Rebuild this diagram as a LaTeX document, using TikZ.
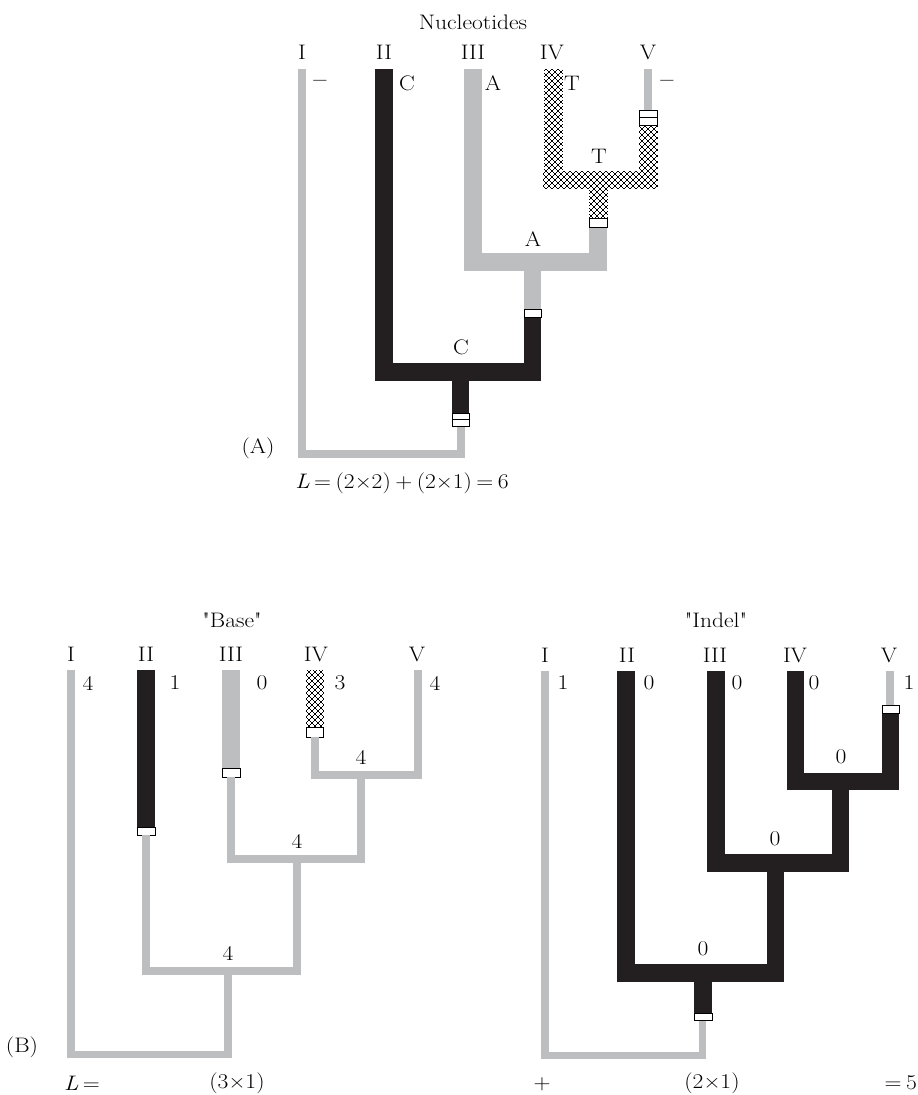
\documentclass[tikz,border=0pt]{standalone}
\usepackage{fontspec}
\setmainfont{Latin Modern Roman}[Ligatures=TeXOff, FakeStretch=1.12]
\usetikzlibrary{patterns.meta}
\definecolor{brgray}{RGB}{189,190,192}
\definecolor{brblack}{RGB}{35,31,32}
\tikzdeclarepattern{
  name=xhatch,
  type=uncolored,
  bounding box={(-0.6pt,-0.6pt) and (6.6pt,6.6pt)},
  tile size={(6pt,6pt)},
  line width=0.9pt,
  code={
    \draw (-0.6pt,-0.6pt) -- (6.6pt,6.6pt);
    \draw (-0.6pt,6.6pt) -- (6.6pt,-0.6pt);
  }
}
\newcommand\lblfont{\fontsize{21}{24}\selectfont}
\newcommand\eqfont{\fontsize{21}{24}\selectfont\spaceskip=4.5pt plus 0pt minus 0pt\relax}
\newcommand\dsh{\textbf{–}}
\tikzset{
  gr/.style={fill=brgray},
  bk/.style={fill=brblack},
  xh/.style={pattern={xhatch}, pattern color=black},
  wbox/.style={draw=black, fill=white, line width=0.8pt},
  lbl/.style={font=\lblfont, inner sep=0pt, anchor=center},
  eqn/.style={font=\eqfont, inner sep=0pt, anchor=center},
}
\begin{document}
\begin{tikzpicture}[x=1pt,y=-1pt]
\useasboundingbox (0,0) rectangle (918,1095);
\fill[white] (0,0) rectangle (918,1095);

% ================= Panel A =================
% I
\fill[gr] (298,69) rectangle (306,458);
\fill[gr] (298,450) rectangle (464.5,458);
\fill[gr] (456.5,426) rectangle (464.5,458);
% root stem black + double box
\fill[bk] (452,381) rectangle (469,413);
\draw[wbox] (452,413) rectangle (469,426);
\draw[line width=0.8pt] (452,419.5) -- (469,419.5);
% C bar and II
\fill[bk] (375,363) rectangle (541,381);
\fill[bk] (375,69) rectangle (393,381);
\fill[bk] (524,317) rectangle (541,381);
\draw[wbox] (524,309) rectangle (541,317);
\fill[gr] (524,271) rectangle (541,309);
% A bar and III
\fill[gr] (464,253) rectangle (607,271);
\fill[gr] (464,69) rectangle (482,271);
\fill[gr] (589,227) rectangle (607,253);
\draw[wbox] (589,218) rectangle (607,227);
\fill[xh] (589,187) rectangle (607,218);
% T bar, IV, V
\fill[xh] (543,171) rectangle (657,188);
\fill[xh] (544,69) rectangle (562,171);
\fill[xh] (639,125) rectangle (657,171);
\draw[wbox] (639,110) rectangle (657,125);
\draw[line width=0.8pt] (639,117.5) -- (657,117.5);
\fill[gr] (644,69) rectangle (652,110);

\node[lbl] (titleA) at (473,22) {Nucleotides};
\node[lbl] (aI) at (302,52) {I};
\node[lbl] (aII) at (384,52) {II};
\node[lbl] (aIII) at (473,52) {III};
\node[lbl] (aIV) at (552,52) {IV};
\node[lbl] (aV) at (648,52) {V};
\node[lbl] (sI) at (320,83) {\dsh};
\node[lbl] (sII) at (407,83) {C};
\node[lbl] (sIII) at (493,83) {A};
\node[lbl] (sIV) at (572,83) {T};
\node[lbl] (sV) at (667,83) {\dsh};
\node[lbl] (nT) at (599,156) {T};
\node[lbl] (nA) at (533,239) {A};
\node[lbl] (nC) at (461,347) {C};
\node[lbl] (labA) at (258,448) {(A)};
\node[eqn] (eqA) at (402,483) {\textit{L} = (2×2) + (2×1) = 6};

% ================= Panel B left =================
\fill[gr] (66.5,670) rectangle (74.5,1058);
\fill[gr] (66.5,1050.5) rectangle (232,1058);
\fill[gr] (224,967) rectangle (232,1058);
\fill[gr] (142,967) rectangle (301,974.5);
% II
\fill[bk] (137,670) rectangle (155,827);
\draw[wbox] (137,827) rectangle (155,835);
\fill[gr] (142,835) rectangle (150,974);
% middle bar
\fill[gr] (293,855) rectangle (301,974);
\fill[gr] (227,855) rectangle (365,862.5);
% III
\fill[gr] (222,670) rectangle (240,768);
\draw[wbox] (222,768) rectangle (240,777);
\fill[gr] (227,777) rectangle (235,862);
% top bar
\fill[gr] (357,771) rectangle (365,862);
\fill[gr] (311,771) rectangle (422,778.5);
% IV
\fill[xh] (306,670) rectangle (323,727);
\draw[wbox] (306,727) rectangle (323,737);
\fill[gr] (311,737) rectangle (319,778);
% V
\fill[gr] (414,670) rectangle (422,778);

\node[lbl] (titleB) at (232,620) {"Base"};
\node[lbl] (bI) at (71,654) {I};
\node[lbl] (bII) at (146,654) {II};
\node[lbl] (bIII) at (231,654) {III};
\node[lbl] (bIV) at (316,654) {IV};
\node[lbl] (bV) at (417,654) {V};
\node[lbl] (bsI) at (88,683) {4};
\node[lbl] (bsII) at (175,683) {1};
\node[lbl] (bsIII) at (262,683) {0};
\node[lbl] (bsIV) at (340,683) {3};
\node[lbl] (bsV) at (435,683) {4};
\node[lbl] (bn1) at (361,757) {4};
\node[lbl] (bn2) at (297,841) {4};
\node[lbl] (bn3) at (228,953) {4};
\node[lbl] (labB) at (22,1047) {(B)};
\node[eqn] (eqB1) at (82,1083) {\textit{L} =};
\node[eqn] (eqB2) at (237,1083) {(3×1)};

% ================= Panel B right =================
\fill[gr] (541,671) rectangle (549,1059);
\fill[gr] (541,1051.5) rectangle (706,1059);
\fill[gr] (699,1020) rectangle (706,1059);
\fill[bk] (694,982) rectangle (712,1013);
\draw[wbox] (694,1013) rectangle (712,1020);
\fill[bk] (617,964) rectangle (784,982);
\fill[bk] (617,671) rectangle (635,982);
\fill[bk] (767,854) rectangle (784,982);
\fill[bk] (707,854) rectangle (849,872);
\fill[bk] (707,671) rectangle (725,872);
\fill[bk] (832,773) rectangle (849,872);
\fill[bk] (787,773) rectangle (899,790);
\fill[bk] (787,671) rectangle (804,790);
\fill[bk] (882,713) rectangle (899,790);
\draw[wbox] (882,705) rectangle (899,713);
\fill[gr] (886,671) rectangle (894,705);

\node[lbl] (titleC) at (716,620) {"Indel"};
\node[lbl] (cI) at (545,655) {I};
\node[lbl] (cII) at (627,655) {II};
\node[lbl] (cIII) at (715,655) {III};
\node[lbl] (cIV) at (795,655) {IV};
\node[lbl] (cV) at (889,655) {V};
\node[lbl] (csI) at (563,683) {1};
\node[lbl] (csII) at (649,683) {0};
\node[lbl] (csIII) at (737,683) {0};
\node[lbl] (csIV) at (814,683) {0};
\node[lbl] (csV) at (909,683) {1};
\node[lbl] (cn1) at (841,757) {0};
\node[lbl] (cn2) at (775,839) {0};
\node[lbl] (cn3) at (703,949) {0};
\node[lbl] (plus) at (542,1084) {+};
\node[eqn] (eqC) at (712,1083) {(2×1)};
\node[eqn, anchor=east] (eqD) at (917,1083) {= 5};
\end{tikzpicture}
\end{document}
